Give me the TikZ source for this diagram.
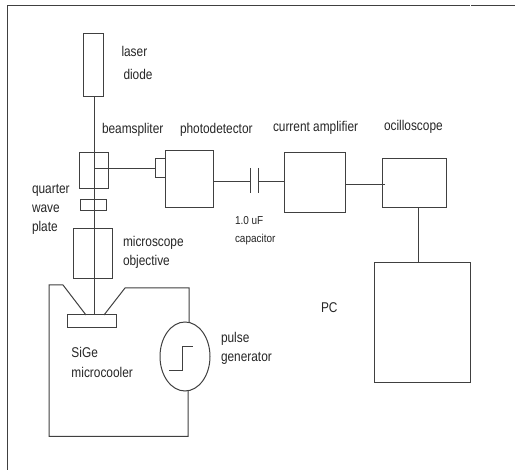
\documentclass[tikz,border=0pt]{standalone}
\usepackage{fontspec}
\setmainfont{Liberation Sans}
\usetikzlibrary{shapes.geometric}
\tikzset{
  x=0.75pt,y=-0.75pt,
  ln/.style={draw=black!75,line width=0.75pt},
  lbl/.style={inner sep=0pt,outer sep=0pt,anchor=base west,font=\fontsize{10.6}{12}\selectfont,text=black!85,xscale=0.84},
  sm/.style={inner sep=0pt,outer sep=0pt,anchor=base west,font=\fontsize{8.6}{10}\selectfont,text=black!85,xscale=0.87}
}
\newcommand{\bx}[5]{\node[ln,rectangle,inner sep=0pt,outer sep=0pt,minimum width=#4*0.75pt-#2*0.75pt,minimum height=#5*0.75pt-#3*0.75pt] (#1) at ({(#2+#4)/2},{(#3+#5)/2}) {};}
\begin{document}
\begin{tikzpicture}
\useasboundingbox (0,0) rectangle (515,470);
\fill[white] (0,0) rectangle (515,470);
\draw[ln] (7,470) -- (7,6) -- (469.5,6);
\draw[ln] (471,6) -- (515,6);
\bx{laser}{83.5}{34}{103}{97}
\bx{bs}{79}{153}{108}{189}
\bx{qwp}{80}{199.5}{106}{211}
\bx{obj}{73.5}{229}{112.5}{279}
\bx{sample}{67.5}{315}{116.5}{328}
\bx{win}{155}{159}{165}{178}
\bx{pd}{165}{151}{213}{208}
\bx{amp}{284}{153}{345}{213}
\bx{scope}{382}{159}{446.5}{208}
\bx{pc}{374.5}{262.5}{470}{383}
\node[ln,ellipse,inner sep=0pt,outer sep=0pt,minimum width=37.5pt,minimum height=51.75pt] (gen) at (185,356.5) {};
\coordinate (capa) at (250.5,181.5);
\coordinate (capb) at (258,181.5);
\coordinate (bsc) at (94,168.5);
\draw[ln] (laser.south -| bsc) -- (sample.north -| bsc);
\draw[ln] (bsc) -- (win.west |- bsc);
\draw[ln] (pd.east |- capa) -- (capa);
\draw[ln] (capb) -- (amp.west |- capb);
\draw[ln] (250.5,168) -- (250.5,193);
\draw[ln] (258,168) -- (258,193);
\draw[ln] (amp.east |- 0,185) -- (384.5,185);
\draw[ln] (scope.south -| 418.5,0) -- (pc.north -| 418.5,0);
\draw[ln] (86,315) -- (63,285) -- (49,285) -- (49,436.5) -- (188,436.5) -- (188,391);
\draw[ln] (104,315) -- (125,288) -- (189,288) -- (189,322);
\draw[ln] (169,371) -- (182,371) -- (182,347) -- (193,347);
\node[lbl] (t1) at (121.5,57) {laser};
\node[lbl] (t2) at (123.5,80) {diode};
\node[lbl] (t3) at (102,134) {beamspliter};
\node[lbl] (t4) at (180,134) {photodetector};
\node[lbl] (t5) at (273,132) {current amplifier};
\node[lbl] (t6) at (384,131) {ocilloscope};
\node[lbl] (t7) at (32,194) {quarter};
\node[lbl] (t8) at (32,213) {wave};
\node[lbl] (t9) at (32,232) {plate};
\node[lbl] (t10) at (123,247) {microscope};
\node[lbl] (t11) at (123,266) {objective};
\node[lbl] (t12) at (71.5,358) {SiGe};
\node[lbl] (t13) at (71.5,378) {microcooler};
\node[lbl] (t14) at (221,343) {pulse};
\node[lbl] (t15) at (221,362) {generator};
\node[lbl] (t16) at (321,313) {PC};
\node[sm] (t17) at (235,225) {1.0 uF};
\node[sm] (t18) at (235,243) {capacitor};
\end{tikzpicture}
\end{document}
